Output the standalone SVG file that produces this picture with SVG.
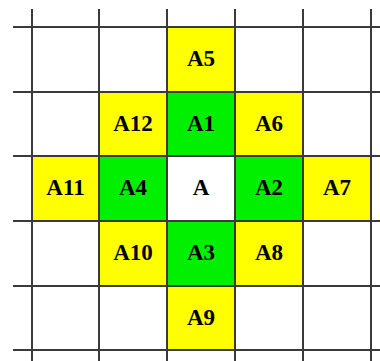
<svg xmlns="http://www.w3.org/2000/svg" width="380" height="361" viewBox="0 0 380 361">
<style>
.y{fill:#FFFF00}
.g{fill:#00F000}
.w{fill:#FFFFFF}
.t{font-family:"Liberation Serif","Times New Roman",serif;font-weight:bold;font-size:23px;fill:#000;text-anchor:middle}
.ln{stroke:#3a3a3a;stroke-width:2;fill:none}
</style>
<rect width="380" height="361" fill="#FFFFFF"/>
<g id="A5"><rect class="y" x="167" y="27" width="68" height="65"/><text class="t" x="201" y="66">A5</text></g>
<g id="A12"><rect class="y" x="99" y="92" width="68" height="64"/><text class="t" x="133" y="130.5">A12</text></g>
<g id="A1"><rect class="g" x="167" y="92" width="68" height="64"/><text class="t" x="201" y="130.5">A1</text></g>
<g id="A6"><rect class="y" x="235" y="92" width="68" height="64"/><text class="t" x="269" y="130.5">A6</text></g>
<g id="A11"><rect class="y" x="32" y="156" width="67" height="65"/><text class="t" x="65.5" y="195">A11</text></g>
<g id="A4"><rect class="g" x="99" y="156" width="68" height="65"/><text class="t" x="133" y="195">A4</text></g>
<g id="A"><rect class="w" x="167" y="156" width="68" height="65"/><text class="t" x="201" y="195">A</text></g>
<g id="A2"><rect class="g" x="235" y="156" width="68" height="65"/><text class="t" x="269" y="195">A2</text></g>
<g id="A7"><rect class="y" x="303" y="156" width="68" height="65"/><text class="t" x="337" y="195">A7</text></g>
<g id="A10"><rect class="y" x="99" y="221" width="68" height="65"/><text class="t" x="133" y="260">A10</text></g>
<g id="A3"><rect class="g" x="167" y="221" width="68" height="65"/><text class="t" x="201" y="260">A3</text></g>
<g id="A8"><rect class="y" x="235" y="221" width="68" height="65"/><text class="t" x="269" y="260">A8</text></g>
<g id="A9"><rect class="y" x="167" y="286" width="68" height="64"/><text class="t" x="201" y="324.5">A9</text></g>
<g id="grid" class="ln">
<line x1="13" y1="27" x2="380" y2="27"/>
<line x1="13" y1="92" x2="380" y2="92"/>
<line x1="13" y1="156" x2="380" y2="156"/>
<line x1="13" y1="221" x2="380" y2="221"/>
<line x1="13" y1="286" x2="380" y2="286"/>
<line x1="13" y1="350" x2="380" y2="350"/>
<line x1="32" y1="9" x2="32" y2="361"/>
<line x1="99" y1="9" x2="99" y2="361"/>
<line x1="167" y1="9" x2="167" y2="361"/>
<line x1="235" y1="9" x2="235" y2="361"/>
<line x1="303" y1="9" x2="303" y2="361"/>
<line x1="371" y1="9" x2="371" y2="361"/>
</g>
</svg>
